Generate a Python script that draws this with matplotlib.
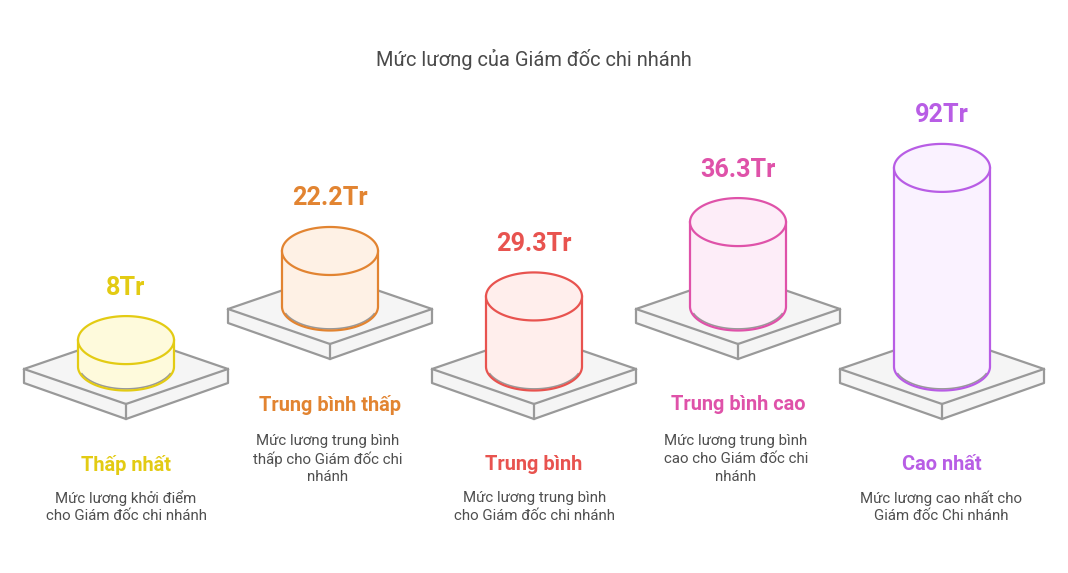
import numpy as np
import matplotlib
matplotlib.use("Agg")
import matplotlib.pyplot as plt
from matplotlib.patches import Polygon

plt.rcParams['font.family'] = ['Roboto', 'DejaVu Sans']

title = "Mức lương của Giám đốc chi nhánh"
categories = ["Thấp nhất", "Trung bình thấp", "Trung bình", "Trung bình cao", "Cao nhất"]
values = [8, 22.2, 29.3, 36.3, 92]
value_labels = ["8Tr", "22.2Tr", "29.3Tr", "36.3Tr", "92Tr"]
descriptions = [
    "Mức lương khởi điểm\ncho Giám đốc chi nhánh",
    "Mức lương trung bình\nthấp cho Giám đốc chi\nnhánh",
    "Mức lương trung bình\ncho Giám đốc chi nhánh",
    "Mức lương trung bình\ncao cho Giám đốc chi\nnhánh",
    "Mức lương cao nhất cho\nGiám đốc Chi nhánh",
]
line_colors = ["#E3CB13", "#E28431", "#E8534F", "#DF52A9", "#B85DE5"]
fill_colors = ["#FEFADC", "#FEF1E5", "#FFEEEC", "#FDEDF8", "#FAF2FF"]

centers = [126, 330, 534, 738, 942]
ground = [366.5, 306.5, 366.5, 306.5, 366.5]   # cylinder bottom ellipse centres
rows_up = [0, 1, 0, 1, 0]
desc_dx = [0, -2, 0.5, -2, -1]
GREY = "#999999"
RX, RY = 48, 24


def bar_height(v):
    return 10.0 + 2.05 * v


fig = plt.figure(figsize=(10.68, 5.73), dpi=100, facecolor="white")
ax = fig.add_axes([0, 0, 1, 1])
ax.set_xlim(0, 1068)
ax.set_ylim(573, 0)
ax.axis("off")

t = np.linspace(0, 2 * np.pi, 240)
lower = np.linspace(0, np.pi, 120)   # y down, so sin>0 is the front arc

for i, (cx, g) in enumerate(zip(centers, ground)):
    lc, fc = line_colors[i], fill_colors[i]
    shift = -60 if rows_up[i] else 0
    # platform
    L, R, F, B = (cx - 102, 369 + shift), (cx + 102, 369 + shift), (cx, 404 + shift), (cx, 334 + shift)
    ax.add_patch(Polygon([L, B, R, (R[0], R[1] + 14), (F[0], F[1] + 15), (L[0], L[1] + 14)],
                         closed=True, fc="#F5F5F5", ec=GREY, lw=1.6, joinstyle="round", zorder=1))
    ax.plot([L[0], F[0], R[0]], [L[1], F[1], R[1]], color=GREY, lw=1.6, zorder=1.1)
    ax.plot([F[0], F[0]], [F[1], F[1] + 15], color=GREY, lw=1.6, zorder=1.1)

    # cylinder
    top = g - bar_height(values[i])
    xs = np.r_[cx - RX, cx + RX * np.cos(lower[::-1]), cx + RX]
    ys = np.r_[top, g + RY * np.sin(lower[::-1]), top]
    ax.fill(xs, ys, color=fc, lw=0, zorder=2)
    ax.plot(xs, ys, color=lc, lw=1.6, zorder=2.2)
    # grey contact shadow just inside the front arc
    arc = np.linspace(0.12 * np.pi, 0.88 * np.pi, 80)
    ax.plot(cx + (RX - 0.5) * np.cos(arc), g - 1.6 + RY * np.sin(arc), color=GREY, lw=1.2, zorder=2.1)
    ax.fill(cx + RX * np.cos(t), top + RY * np.sin(t), facecolor=fc, edgecolor=lc, lw=1.6, zorder=3)

    # texts
    ax.text(cx, top - RY - 28.5, value_labels[i], color=lc, fontsize=18.2, fontweight="bold",
            ha="center", va="center", zorder=4)
    label_y = 465 + shift
    ax.text(cx, label_y, categories[i], color=lc, fontsize=14.4, fontweight="bold",
            ha="center", va="center", zorder=4)
    desc_top = 498 if not rows_up[i] else 441
    for k, line in enumerate(descriptions[i].split("\n")):
        ax.text(cx + desc_dx[i], desc_top + 18 * k, line, color="#4F4F4F", fontsize=10.85,
                ha="center", va="center", zorder=4)

ax.text(534, 60, title, color="#4A4A4A", fontsize=14.4, ha="center", va="center")

fig.savefig("out.png", dpi=100, facecolor="white")
